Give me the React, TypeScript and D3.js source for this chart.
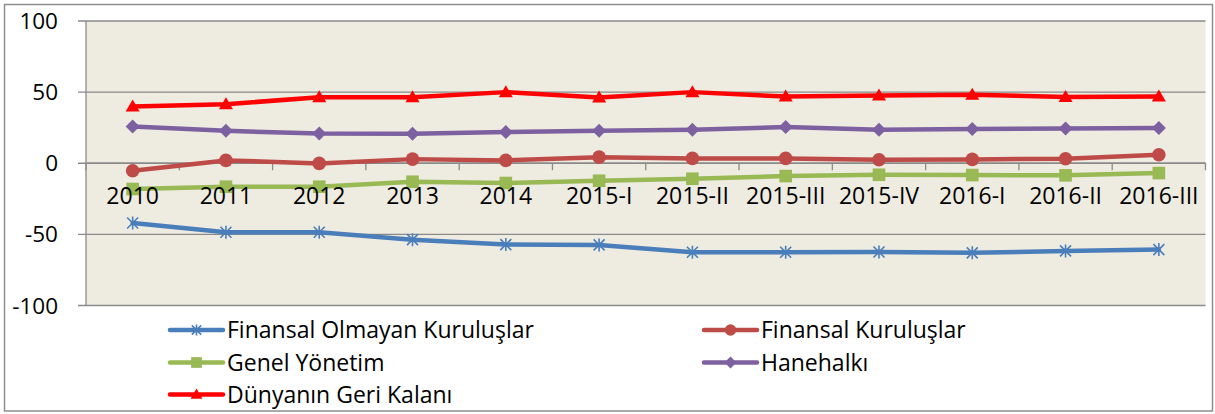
import React from "react";
import * as d3 from "d3";

const categories = ["2010", "2011", "2012", "2013", "2014", "2015-I", "2015-II", "2015-III", "2015-IV", "2016-I", "2016-II", "2016-III"];
const finansalOlmayan = [-42, -48.5, -48.5, -53.7, -57.2, -57.4, -62.6, -62.6, -62.4, -63.0, -61.6, -60.7];
const finansal = [-5.3, 2.0, -0.1, 2.9, 2.0, 4.3, 3.4, 3.4, 2.5, 2.7, 3.2, 6.0];
const genelYonetim = [-18.1, -16.5, -16.5, -13.0, -13.9, -12.3, -10.9, -9.0, -8.1, -8.3, -8.5, -6.9];
const hanehalki = [25.8, 22.8, 20.9, 20.7, 21.9, 22.8, 23.5, 25.4, 23.5, 24.0, 24.4, 24.7];
const dunya = [39.9, 41.5, 46.4, 46.4, 50.0, 46.2, 50.0, 46.9, 47.6, 48.1, 46.6, 46.9];
const yTicks = [-100, -50, 0, 50, 100];

type MarkerKind = "star" | "circle" | "square" | "diamond" | "triangle";
const series: { name: string; values: number[]; color: string; marker: MarkerKind }[] = [
  { name: "Finansal Olmayan Kuruluşlar", values: finansalOlmayan, color: "#4a7ebb", marker: "star" },
  { name: "Finansal Kuruluşlar", values: finansal, color: "#be4b48", marker: "circle" },
  { name: "Genel Yönetim", values: genelYonetim, color: "#98b954", marker: "square" },
  { name: "Hanehalkı", values: hanehalki, color: "#7d60a0", marker: "diamond" },
  { name: "Dünyanın Geri Kalanı", values: dunya, color: "#ff0000", marker: "triangle" },
];

const W = 1215;
const H = 414;
const plot = { left: 86, right: 1205.5, top: 21, bottom: 305.5 };
const FONT = "'Open Sans', 'Noto Sans', sans-serif";

function Marker({ kind, x, y, color, s = 1 }: { kind: MarkerKind; x: number; y: number; color: string; s?: number }) {
  if (kind === "circle") return <circle cx={x} cy={y} r={6.8 * s} fill={color} />;
  if (kind === "square") {
    const h = 6.3 * s;
    return <rect x={x - h} y={y - h} width={2 * h} height={2 * h} fill={color} />;
  }
  if (kind === "diamond") {
    const h = 7 * s;
    return <path d={`M${x},${y - h}L${x + h},${y}L${x},${y + h}L${x - h},${y}Z`} fill={color} />;
  }
  if (kind === "triangle") {
    const w = 7 * s;
    return <path d={`M${x},${y - 7 * s}L${x + w},${y + 5 * s}L${x - w},${y + 5 * s}Z`} fill={color} />;
  }
  const h = 6.5 * s;
  const d = 5.5 * s;
  return (
    <path
      d={`M${x},${y - h}L${x},${y + h}M${x - d},${y - d}L${x + d},${y + d}M${x - d},${y + d}L${x + d},${y - d}`}
      stroke={color}
      strokeWidth={1.6}
      fill="none"
    />
  );
}

export default function App() {
  const x = d3.scaleBand<string>().domain(categories).range([plot.left, plot.right]).padding(0);
  const y = d3.scaleLinear().domain([-100, 100]).range([plot.bottom, plot.top]);
  const cx = (c: string) => (x(c) as number) + x.bandwidth() / 2;
  const line = d3
    .line<number>()
    .x((_, i) => cx(categories[i]))
    .y((v) => y(v));
  const boundaries = d3.range(categories.length + 1).map((k) => plot.left + k * x.bandwidth());

  const legendItems = [
    { s: series[0], lx: 170, ly: 330 },
    { s: series[1], lx: 704, ly: 330 },
    { s: series[2], lx: 170, ly: 362.5 },
    { s: series[3], lx: 704, ly: 362.5 },
    { s: series[4], lx: 170, ly: 394.5 },
  ];

  return (
    <div style={{ position: "absolute", left: 0, top: 0 }}>
      <svg width={W} height={H} style={{ display: "block" }}>
        <rect x={0} y={0} width={W} height={H} fill="#ffffff" />
        <rect x={4.5} y={4.5} width={1208} height={406.5} fill="#ffffff" stroke="#8e8e8e" strokeWidth={1.5} />
        <rect x={plot.left} y={plot.top} width={plot.right - plot.left} height={plot.bottom - plot.top} fill="#eeebe0" />
        {yTicks.map((t) => (
          <g key={t}>
            <line x1={plot.left - 8} x2={plot.right} y1={y(t)} y2={y(t)} stroke="#8a8a8a" strokeWidth={1.3} />
            <text x={58} y={y(t) + 8} textAnchor="end" fontFamily={FONT} fontSize={22.5} fill="#000">
              {t}
            </text>
          </g>
        ))}
        <line x1={plot.left} x2={plot.left} y1={plot.top} y2={plot.bottom} stroke="#8a8a8a" strokeWidth={1.3} />
        <line x1={plot.left} x2={plot.right} y1={y(0)} y2={y(0)} stroke="#8a8a8a" strokeWidth={1.3} />
        {boundaries.map((b, i) => (
          <line key={i} x1={b} x2={b} y1={y(0)} y2={y(0) + 7} stroke="#8a8a8a" strokeWidth={1.3} />
        ))}
        {series.map((s) => (
          <g key={s.name}>
            <path d={line(s.values) || ""} fill="none" stroke={s.color} strokeWidth={4.5} strokeLinejoin="round" strokeLinecap="round" />
            {s.values.map((v, i) => (
              <Marker key={i} kind={s.marker} x={cx(categories[i])} y={y(v)} color={s.color} />
            ))}
          </g>
        ))}
        {categories.map((c) => (
          <text key={c} x={cx(c)} y={204} textAnchor="middle" fontFamily={FONT} fontSize={23} fill="#000">
            {c}
          </text>
        ))}
        {legendItems.map(({ s, lx, ly }) => (
          <g key={s.name}>
            <line x1={lx} x2={lx + 53} y1={ly} y2={ly} stroke={s.color} strokeWidth={4.5} strokeLinecap="round" />
            <Marker kind={s.marker} x={lx + 26.5} y={ly} color={s.color} s={0.85} />
            <text x={lx + 57} y={ly + 8} fontFamily={FONT} fontSize={23} fill="#000">
              {s.name}
            </text>
          </g>
        ))}
      </svg>
    </div>
  );
}
